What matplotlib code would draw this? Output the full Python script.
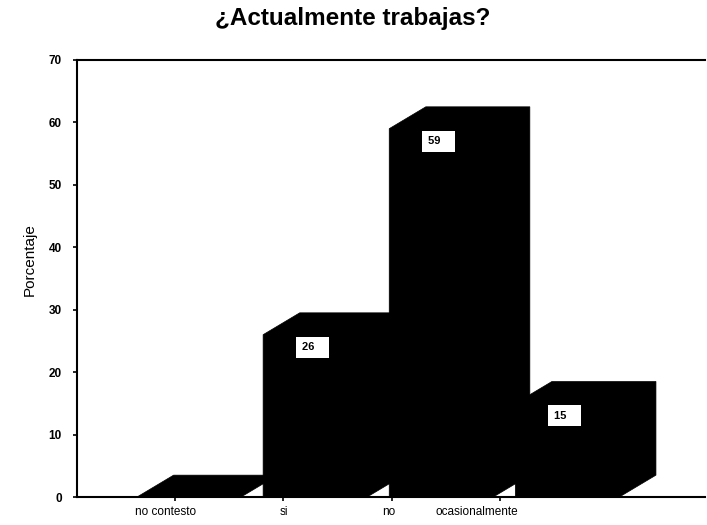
import matplotlib
matplotlib.use("Agg")
import matplotlib.pyplot as plt
from matplotlib.patches import Polygon
import matplotlib.transforms as mtransforms

plt.rcParams["font.family"] = ["Liberation Sans", "DejaVu Sans"]

# datos
categorias = ["no contesto", "si", "no", "ocasionalmente"]
porcentajes = [0, 26, 59, 15]
etiquetas = ["", "26", "59", "15"]
y_ticks = [0, 10, 20, 30, 40, 50, 60, 70]

# geometria de las barras "3D" (unidades de categoria / porcentaje)
X0 = 0.476       # borde izquierdo de la primera barra
ANCHO = 0.825
DX = 0.29        # profundidad horizontal
DY = 3.5         # profundidad vertical (en %)
TICK0, TICK_PASO = 0.78, 0.857
LABEL_OFF = [-0.08, 0.0, -0.02, -0.18]


def barra3d(ax, x, v, z):
    # contorno completo (frente + tapa + lateral) en un solo poligono
    pts = [(x, 0), (x + ANCHO, 0), (x + ANCHO + DX, DY),
           (x + ANCHO + DX, v + DY), (x + DX, v + DY), (x, v)]
    ax.add_patch(Polygon(pts, facecolor="black", edgecolor="black",
                         linewidth=0.5, zorder=z))


fig = plt.figure(figsize=(7.07, 5.25), dpi=100)
ax = fig.add_axes([77 / 707, 28 / 525, 628 / 707, 437 / 525])

for i, v in enumerate(porcentajes):
    x = X0 + i
    barra3d(ax, x, v, 2 + i)
    if etiquetas[i]:
        ax.text(x + ANCHO / 2 - 0.02, v - 2.0, etiquetas[i] + "   ", ha="center", va="center",
                fontsize=8, fontweight="bold", zorder=10,
                bbox=dict(facecolor="white", edgecolor="none", pad=4))

ax.set_xlim(0, 4.98)
ax.set_ylim(0, 70)
ax.set_yticks(y_ticks)
ax.tick_params(axis="y", labelsize=8.5, length=3, width=1.2, direction="out", pad=8)
for t in ax.get_yticklabels():
    t.set_fontweight("bold")

tick_pos = [TICK0 + TICK_PASO * i for i in range(len(categorias))]
ax.set_xticks(tick_pos)
ax.set_xticklabels([""] * len(categorias))
ax.tick_params(axis="x", length=3, width=1.2, direction="out")
trans = mtransforms.blended_transform_factory(ax.transData, ax.transAxes)
for p, off, cat in zip(tick_pos, LABEL_OFF, categorias):
    ax.text(p + off, -0.02, cat, transform=trans, ha="center", va="top", fontsize=8.5)

for s in ["left", "top", "bottom"]:
    ax.spines[s].set_linewidth(1.5)
ax.spines["right"].set_visible(False)

fig.text(30 / 707, 1 - 260 / 525, "Porcentaje", rotation=90, ha="center", va="center",
         fontsize=11)
fig.text(353 / 707, 1 - 18 / 525, "¿Actualmente trabajas?", ha="center", va="center",
         fontsize=17.5, fontweight="bold")

fig.savefig("out.png", dpi=100)
